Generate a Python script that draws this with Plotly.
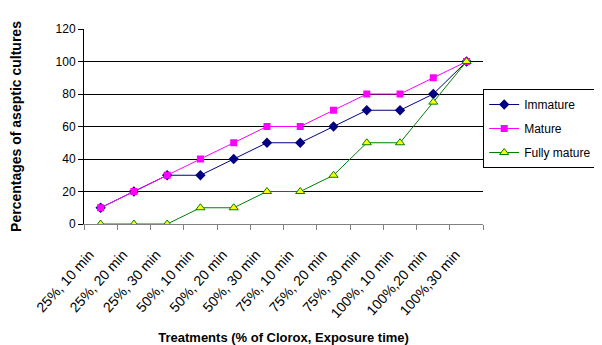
import plotly.graph_objects as go

categories = ["25%, 10 min", "25%, 20 min", "25%, 30 min", "50%, 10 min", "50%, 20 min",
              "50%, 30 min", "75%, 10 min", "75%, 20 min", "75%, 30 min", "100%, 10 min",
              "100%,20 min", "100%,30 min"]
immature = [10, 20, 30, 30, 40, 50, 50, 60, 70, 70, 80, 100]
mature = [10, 20, 30, 40, 50, 60, 60, 70, 80, 80, 90, 100]
fully_mature = [0, 0, 0, 10, 10, 20, 20, 30, 50, 50, 75, 100]

fig = go.Figure()
fig.add_trace(go.Scatter(x=categories, y=immature, name="Immature", mode="lines+markers",
                         legendgroup="a",
                         line=dict(color="#000080", width=1),
                         marker=dict(symbol="diamond", size=8, color="#000080")))
fig.add_trace(go.Scatter(x=categories, y=mature, name="Mature", mode="lines+markers",
                         legendgroup="b",
                         line=dict(color="#FF00FF", width=1),
                         marker=dict(symbol="square", size=7, color="#FF00FF")))
fig.add_trace(go.Scatter(x=categories, y=fully_mature, name="Fully mature", mode="lines+markers",
                         legendgroup="c",
                         line=dict(color="#008000", width=1),
                         marker=dict(symbol="triangle-up", size=8, color="#FFFF00",
                                     line=dict(color="#008000", width=1))))

fig.update_layout(
    width=594, height=337,
    margin=dict(l=76, r=118, t=21, b=121),
    plot_bgcolor="white", paper_bgcolor="white",
    font=dict(family="Liberation Sans, Arial, sans-serif", color="black", size=12),
    showlegend=True,
    legend=dict(xref="container", yref="container", x=0.8, y=0.7596,
                xanchor="left", yanchor="top",
                bordercolor="black", borderwidth=1, font=dict(size=12),
                tracegroupgap=5, itemwidth=30),
    xaxis=dict(type="category", range=[-0.5, 11.5], tickangle=-48,
               showgrid=False, showline=True, linecolor="#808080", linewidth=1,
               ticks="outside", tickson="boundaries", ticklen=5, tickcolor="#808080",
               tickfont=dict(size=14), ticklabelstandoff=16, ticklabelshift=-11,
               automargin=False,
               title=dict(text="<b>Treatments (% of Clorox, Exposure time)</b>",
                          font=dict(size=13), standoff=14)),
    yaxis=dict(range=[0, 120], dtick=20, showgrid=True, gridcolor="black", gridwidth=1,
               showline=True, linecolor="black", linewidth=1, automargin=False,
               ticks="outside", ticklen=5, tickcolor="black", zeroline=False,
               tickfont=dict(size=12),
               title=dict(text="<b>Percentages of aseptic cultures</b>",
                          font=dict(size=14), standoff=30)),
)

fig.write_html("out.html")
